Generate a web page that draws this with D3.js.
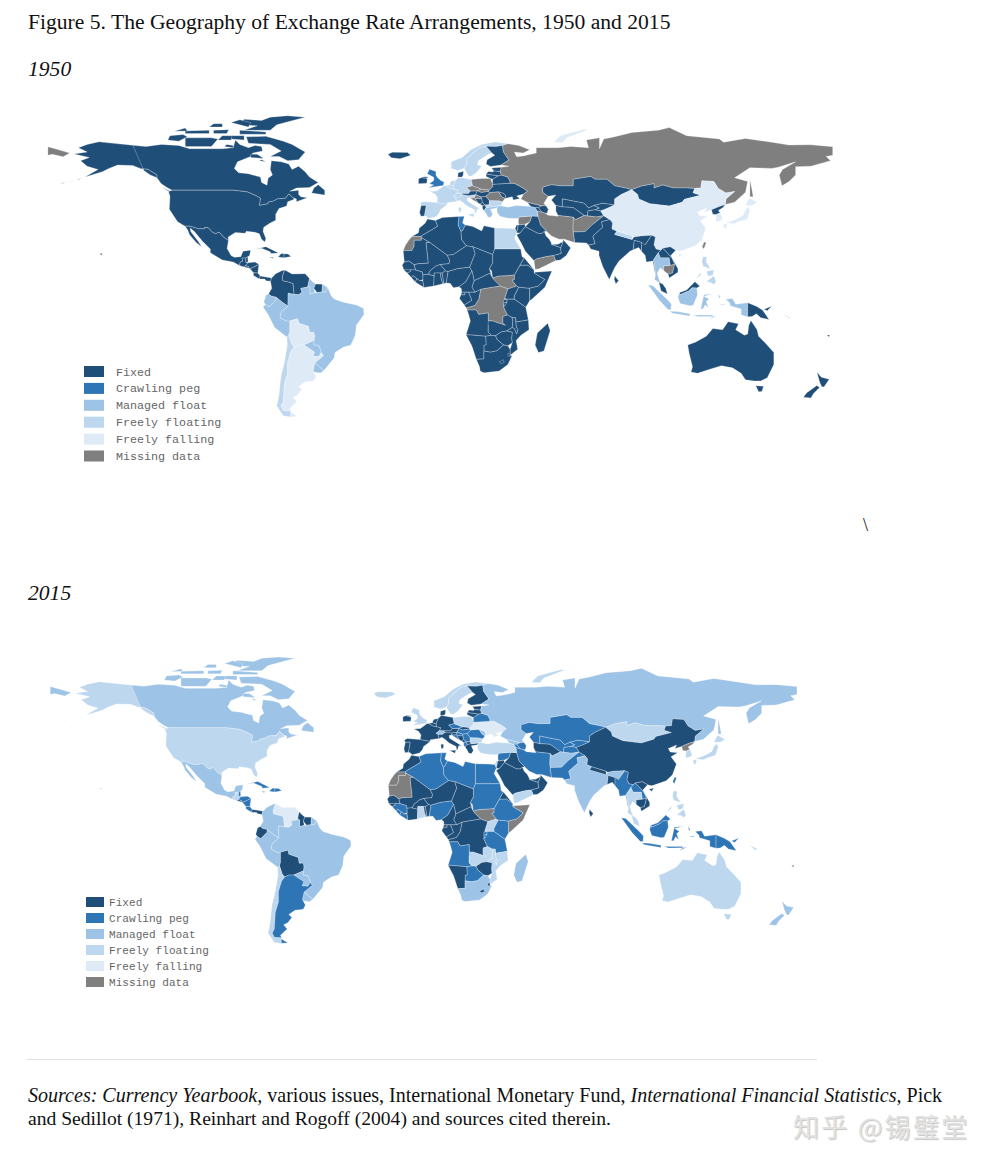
<!DOCTYPE html>
<html>
<head>
  <meta charset="utf-8">
  <style>
    html, body { margin: 0; padding: 0; background: #fff; }
    svg { display: block; }
    .page-text { font-family: "Liberation Serif", serif; fill: #111; }
    .legend-text { font-family: "Liberation Mono", monospace; fill: #666; }
    .land { stroke: #fff; stroke-opacity: 0.45; stroke-width: 0.6; stroke-linejoin: round; }
    .map { filter: blur(0.5px); }
  </style>
  <script src="https://d3js.org/d3.v7.min.js"></script>
</head>
<body>
  <div id="chartContainer"></div>

  <script>
    var regimeLabels = ["Fixed", "Crawling peg", "Managed float", "Freely floating", "Freely falling", "Missing data"];
    var regimeColors = ["#1f4e79", "#2e75b6", "#9dc3e6", "#bdd7ee", "#deebf7", "#7f7f7f"];

    // anything not listed below is "Fixed"
    var crawling1950 = ["United Kingdom", "Tunisia"];
    var managed1950 = ["Brazil", "Peru", "Ecuador", "Guyana", "French Guiana", "Paraguay", "Uruguay", "Turkey", "Greece", "Thailand", "Indonesia"];
    var floating1950 = ["Norway", "Sweden", "France", "Belgium", "Netherlands", "Germany", "Switzerland", "Spain", "Italy", "Slovenia", "Chile", "Egypt", "Nepal", "Philippines", "Bulgaria", "Macedonia"];
    var falling1950 = ["China", "Argentina", "Bolivia", "Japan", "South Korea", "Novaya Zemlya", "Solomon Islands"];
    var missing1950 = ["Russia", "Poland", "Czechia", "Slovakia", "Romania", "Croatia", "Syria", "Iran", "Afghanistan", "Yemen", "Cambodia", "Taiwan", "DR Congo", "South Sudan", "Western Sahara"];

    var crawling2015 = ["Czechia", "Hungary", "Romania", "Croatia", "Serbia", "Albania", "Belarus", "Kazakhstan", "Uzbekistan", "Kyrgyzstan", "Tajikistan", "Iran", "Pakistan", "Syria", "Armenia", "Azerbaijan", "Algeria", "Tunisia", "Libya", "Egypt", "Sudan", "Guinea", "Sierra Leone", "Liberia", "Nigeria", "Ethiopia", "Kenya", "Tanzania", "Rwanda", "Burundi", "Angola", "Botswana", "Myanmar", "Laos", "Sabah", "Indonesia", "Papua New Guinea", "Taiwan", "Argentina", "Honduras", "Nicaragua", "Costa Rica", "Haiti", "Dominican Republic", "Jamaica", "Belize", "Cuba"];
    var managed2015 = ["Russia", "Canada", "Mexico", "Peru", "Paraguay", "Uruguay", "Colombia", "Brazil", "French Guiana", "Switzerland", "Moldova", "Georgia", "Afghanistan", "India", "New Zealand", "Madagascar", "South Africa"];
    var floating2015 = ["United States", "Iceland", "United Kingdom", "Norway", "Sweden", "Poland", "Turkey", "Bulgaria", "Mongolia", "South Korea", "Japan", "Thailand", "Malaya", "Philippines", "Australia", "Chile", "Guatemala", "Yemen", "Israel", "Uganda", "Zambia", "Malawi", "Mozambique", "Ghana", "Novaya Zemlya", "Solomon Islands"];
    var falling2015 = ["Venezuela", "Ukraine"];
    var missing2015 = ["Western Sahara", "Mauritania", "South Sudan", "Somalia", "North Korea"];

    // country outlines as "lon lat lon lat ...", rough and read off the picture
    var outlines = [
      ["Canada", "-141 69.6 -135 69 -128 70 -120 69.5 -115 68 -108 68 -100 68 -95 68.5 -94 72 -92 70 -88 68.5 -85 69.5 -82 69 -81.5 67 -86 66 -87 64.5 -93 62 -94.5 59 -92.5 57 -88 56.5 -82.5 55 -82 52.5 -79.5 51.3 -79 54.5 -77 56 -78 58.5 -77.5 62.5 -73 62 -69.5 61 -68 58.5 -65 60 -62 57.5 -60 55 -56 52.5 -60 50.2 -66 50 -69 48.5 -65 49 -65 47 -64 46 -61 45.5 -66 43.7 -66 45 -67.5 45.5 -69.5 47.3 -71 45.3 -74.8 45 -76.5 44 -79 43.5 -79 42.8 -83 42 -82.5 45.3 -84.5 46.5 -88.5 48.2 -95 49 -123 49 -125 50 -128 52 -130 54.7 -130 56 -134 58.5 -137.5 59 -141 60.3"],
      ["Canada", "-80 73.7 -72 71.5 -68 70 -62 66.5 -65 63 -70 62.5 -74 64.5 -78 64.5 -73 67 -78 70 -88 70.5 -89 73.5"],
      ["Canada", "-117 69 -105 69 -102 72.5 -105 73 -117 73"],
      ["Canada", "-90 76.5 -78 76.5 -75 79 -62 82.5 -70 83.1 -78 82.5 -82 81 -90 81.5 -92 79 -84 78.5"],
      ["Canada", "-125 72 -120 71.5 -116 73.5 -118 74.5 -124 74"],
      ["Canada", "-92 74.7 -80 74.7 -80 75.7 -92 76.5"],
      ["Canada", "-117 75 -106 75 -106 76.5 -117 76.2"],
      ["Canada", "-96 80 -88 78 -87 80 -92 81.3"],
      ["Canada", "-102 72 -96 72 -95 74 -100 74"],
      ["Canada", "-96 72.5 -90 72 -90 74 -95.5 74"],
      ["Canada", "-104 75 -98 75 -97 76.7 -104 76.5"],
      ["Canada", "-122 76 -116 76.2 -117 77.5"],
      ["Canada", "-106 78 -100 78 -100 79.5 -104 79.5"],
      ["Canada", "-99 69 -95 68.5 -95 69.5 -98 70"],
      ["Canada", "-83 62.5 -80 62 -82 63"],
      ["Canada", "-87 64 -81 63.5 -84 65.5 -87 65.5"],
      ["Canada", "-59 47.7 -53 46.8 -53 49 -56 51.5 -58 50"],
      ["Canada", "-128 50.5 -123.5 48.4 -125 48.7"],
      ["United States", "-141 69.6 -150 70.5 -156.5 71.2 -162 70 -166 68.5 -162 66.5 -168 65.6 -161 64 -165 62.5 -162 60 -157 58.5 -163 55 -155 57.5 -152 59 -148 60.5 -141 60.3 -137.5 59 -134 58.5 -130 56 -130 54.7 -133 56 -136 58"],
      ["United States", "-164.5 54.5 -166.5 53.6 -166 54"],
      ["United States", "-168 53.3 -170 52.8 -169 53"],
      ["United States", "-172 52.4 -174.5 52 -173 52.4"],
      ["United States", "-123 49 -95 49 -88.5 48.2 -84.5 46.5 -82.5 45.3 -83 42 -79 42.8 -79 43.5 -76.5 44 -74.8 45 -71 45.3 -69.5 47.3 -67.5 45.5 -67 44.8 -70 43.7 -70.5 41.7 -74 40.6 -75.5 38 -75.5 35.2 -78 34 -81 32 -81.3 30 -80 26.8 -80.5 25.2 -82 26.5 -83 29 -85 29.7 -89 30.2 -89.5 29.2 -94 29.6 -97.3 27.5 -97.2 25.9 -99.5 27.5 -101.5 29.8 -103 29 -104.5 29.7 -106.5 31.8 -108.2 31.8 -108.2 31.3 -111 31.3 -114.8 32.5 -117.1 32.5 -120.5 34.5 -122.5 37.5 -124.3 40.3 -124 46.2 -124.7 48.4"],
      ["United States", "-156 20.2 -155 19.8 -155.6 19"],
      ["Mexico", "-117.1 32.5 -114.8 32.5 -111 31.3 -108.2 31.3 -108.2 31.8 -106.5 31.8 -104.5 29.7 -103 29 -101.5 29.8 -99.5 27.5 -97.2 25.9 -97.8 22.3 -96 19 -94.5 18.2 -91.5 18.5 -90.5 21 -87 21.5 -87.5 19 -88.3 18.5 -89.2 17.9 -91 17.9 -90.5 16.5 -91.7 16 -92.2 14.5 -95 16 -100 17 -105.5 20.3 -105.5 22 -109 25.5 -112.8 30 -114.7 31.6 -114.5 30 -111 25.5 -109.5 23 -112 25 -115 28.5 -116 31"],
      ["Guatemala", "-92.2 14.5 -91.7 16 -90.5 16.5 -91 17.9 -89.2 17.9 -89.2 15.9 -88.2 15.7 -89.3 14.4 -90 13.8"],
      ["Belize", "-89.2 17.9 -88.3 18.5 -88.2 16 -89.2 15.9"],
      ["El Salvador", "-90 13.8 -89.3 14.4 -87.8 13.9 -87.7 13.2"],
      ["Honduras", "-89.3 14.4 -88.2 15.7 -85 16 -83.2 15 -85 14 -87.3 13 -87.7 13.2 -87.8 13.9"],
      ["Nicaragua", "-87.3 13 -85 14 -83.2 15 -83.7 11 -85.7 11.1"],
      ["Costa Rica", "-85.7 11.1 -83.7 11 -82.6 9.6 -83 8.3 -85.7 9.9"],
      ["Panama", "-83 8.3 -82.6 9.6 -80 9.2 -77.4 8.7 -77.9 7.2 -80 7.5 -80.5 8.2"],
      ["Cuba", "-85 21.9 -80 23.1 -74.2 20.2 -77.7 19.9 -78 20.7 -82 22.4"],
      ["Haiti", "-74.4 18.4 -71.7 18 -71.7 19.8 -73 19.9"],
      ["Dominican Republic", "-71.7 18 -68.4 18.6 -69.9 19.7 -71.7 19.8"],
      ["Jamaica", "-78.3 18.4 -76.3 18.1 -77 17.8"],
      ["Colombia", "-77.4 8.7 -75.5 10.7 -72.8 12 -71.3 12.4 -71.9 11 -72.5 9 -72.3 7.5 -70 7 -67.5 6.2 -67.3 3.5 -67 1.2 -69.8 1.7 -69.9 -4.2 -70.5 -3.8 -72.5 -2.4 -75.3 -0.1 -77.5 0.4 -78.8 1.4 -77.3 4 -77.9 7.2"],
      ["Venezuela", "-71.3 12.4 -71.9 11 -72.5 9 -72.3 7.5 -70 7 -67.5 6.2 -67.3 3.5 -67 1.2 -65 1 -63.4 2.2 -64 4 -61 4.5 -60.7 5.2 -60 8.5 -62 10.7 -68 10.6"],
      ["Guyana", "-60 8.5 -60.7 5.2 -59.8 4.5 -59.8 1.3 -57.5 2 -58 4 -57.2 6 -58.5 6.9"],
      ["Suriname", "-57.2 6 -58 4 -56.5 2 -54.3 2.3 -54 5.9"],
      ["French Guiana", "-54 5.9 -54.3 2.3 -52.7 2.2 -51.6 4.2"],
      ["Ecuador", "-80.9 -2.2 -80 0.8 -78.8 1.4 -77.5 0.4 -75.3 -0.1 -75.5 -1.5 -78.5 -4.5 -80.3 -3.4"],
      ["Peru", "-81.3 -4.7 -80.3 -3.4 -78.5 -4.5 -75.5 -1.5 -75.3 -0.1 -72.5 -2.4 -70.5 -3.8 -69.9 -4.2 -73 -7 -73.5 -9.5 -70.6 -11 -69 -11 -69 -16 -69.5 -17.5 -70.4 -18.3 -76 -14 -79 -8"],
      ["Brazil", "-51.6 4.2 -52.7 2.2 -54.3 2.3 -56.5 2 -57.5 2 -59.8 1.3 -59.8 4.5 -60.7 5.2 -61 4.5 -64 4 -63.4 2.2 -65 1 -67 1.2 -69.8 1.7 -69.9 -4.2 -73 -7 -73.5 -9.5 -70.6 -11 -69 -11 -65.4 -10 -65 -12 -60.5 -13.5 -60 -16.3 -58 -16.3 -57.7 -18 -58 -20 -58 -22 -55.7 -22.3 -54.6 -25.5 -53.7 -27 -57.6 -30.2 -53.4 -33.7 -52 -32 -48.7 -28 -48.3 -25.5 -44.5 -23 -41 -22 -39 -17.5 -38.5 -13 -35 -8 -35.2 -5.2 -38.5 -3.7 -44 -2.5 -48.5 -1 -50 0.5"],
      ["Bolivia", "-69 -11 -65.4 -10 -65 -12 -60.5 -13.5 -60 -16.3 -58 -16.3 -57.7 -18 -58 -20 -62.6 -22 -65 -22 -67 -23 -68.2 -21.5 -69.5 -17.5 -69 -16"],
      ["Paraguay", "-58 -20 -58 -22 -55.7 -22.3 -54.6 -25.5 -55.8 -27.4 -58.6 -27.2 -57.7 -25.3 -62.6 -22"],
      ["Uruguay", "-58.4 -33.9 -57.6 -30.2 -53.4 -33.7 -55 -34.9 -57.8 -34.5"],
      ["Chile", "-70.4 -18.3 -69.5 -17.5 -68.2 -21.5 -67 -23 -68.5 -25 -70 -30 -70 -35 -71.5 -40 -72 -48 -73 -50 -72 -52 -68.5 -52.3 -68.6 -54.9 -67 -55.3 -72 -54.5 -75 -50 -74 -45 -73.5 -40 -73 -36 -71.5 -30 -70.2 -22"],
      ["Argentina", "-67 -23 -65 -22 -62.6 -22 -57.7 -25.3 -58.6 -27.2 -55.8 -27.4 -54.6 -25.5 -53.7 -27 -57.6 -30.2 -58.4 -33.9 -57 -36.5 -58 -38.5 -62 -39 -65 -41 -63.5 -42.5 -65.5 -45 -67.5 -46 -65.8 -48 -69 -51 -68.5 -52.3 -72 -52 -73 -50 -72 -48 -71.5 -40 -70 -35 -70 -30 -68.5 -25"],
      ["Argentina", "-68.6 -52.7 -68.6 -54.9 -65.5 -54.8"],

      ["Iceland", "-24 65.5 -22 66.4 -15 66.3 -13.6 65 -18.5 63.4 -22.5 63.9"],
      ["Ireland", "-10 52 -6.2 52.2 -6 54 -7.5 55.2 -10 54.3"],
      ["United Kingdom", "-8 54.5 -5.5 54.5 -6 55.2 -7.5 55.2"],
      ["United Kingdom", "-5.5 50.1 1.4 51.2 1.7 52.7 0 53.5 -1.5 55 -2 56 -2 57.6 -5 58.6 -6 56.5 -3 54.9 -3 53.4 -5 52 -3 51.4"],
      ["Norway", "5 59 5 62 10 64 14 67.5 19 70 25 71.1 31 70.3 28.5 69.5 25.5 69 21 69.2 18 68.5 15 66 12.2 63.5 12 60.5 11 59 8 58"],
      ["Sweden", "11 59 12 60.5 12.2 63.5 15 66 18 68.5 21 69.2 23.7 66 22 65.5 17.5 62.5 17 60.7 19 60 16.5 57 14.3 55.5 13 55.5 11.5 58"],
      ["Finland", "21 69.2 25.5 69 28.5 69.5 29 66.5 31.5 62.9 27.9 60.5 23 59.9 21 61 21.5 63 25 65 23.7 66"],
      ["Denmark", "8 55 8.2 57 10.6 57.7 10.5 56 10 55"],
      ["Germany", "7 53.5 8.5 54.9 10 54.7 14.2 53.9 14.8 51 12.1 50.3 13.8 48.6 13 47.5 7.6 47.6 8.2 49 6.2 49.5 6 51"],
      ["France", "-4.7 48.4 -1.5 48.7 1.5 50.9 2.5 51.1 4.2 50 6.2 49.5 8.2 49 7.6 47.6 6 46.3 7 45.9 7.5 43.8 3.2 43.2 3.2 42.4 -1.7 43.3 -1.2 45.5 -2.5 47.3"],
      ["Belgium", "2.5 51.1 4.2 51.4 6 51 6.2 49.5 4.2 50"],
      ["Netherlands", "4.2 51.4 4.8 53 7 53.5 6 51"],
      ["Spain", "-9.3 43 -8 43.8 -1.7 43.3 3.2 42.4 0 40 -0.5 38.5 -2 36.8 -5.5 36 -6.5 37 -7.4 37.2 -7 39 -6.5 42 -8.8 42"],
      ["Portugal", "-8.8 42 -6.5 42 -7 39 -7.4 37.2 -8.9 37 -9.5 38.8"],
      ["Italy", "7 45.9 9 45.9 10.4 46.9 12 47 13.7 46.5 13.6 45.5 12.3 45.3 12.5 44 16 41.8 18.5 40.2 17 40.5 16.5 38.9 16 38 15.7 40 12.3 41.7 10.3 43.5 8.8 44.4 7.5 43.8"],
      ["Italy", "12.5 38 15.6 38.2 15.1 36.7"],
      ["Italy", "8.3 41 9.7 41 9.5 39.1 8.5 39"],
      ["Switzerland", "6 46.3 7.6 47.6 9.6 47.5 10.4 46.9 9 45.9 7 45.9"],
      ["Austria", "9.6 47.5 13 47.5 13.8 48.6 17 48.7 16.2 46.9 13.7 46.5 10.4 46.9"],
      ["Czechia", "12.1 50.3 14.8 51 18.8 49.5 17 48.7 13.8 48.6"],
      ["Slovakia", "17 48.7 18.8 49.5 22.5 49.1 22 48.4 18.8 47.9"],
      ["Poland", "14.2 53.9 19 54.4 23 54.4 24 52 24 50.6 22.5 49.1 18.8 49.5 14.8 51"],
      ["Hungary", "16.2 46.9 17 48.7 18.8 47.9 22 48.4 22.9 48 21 46.2 18.8 45.9"],
      ["Slovenia", "13.7 46.5 16.2 46.9 15.6 45.5 13.6 45.5"],
      ["Croatia", "13.6 45.5 15.6 45.5 16.2 46.9 18.8 45.9 19 45 16 45.2 17.5 43 15 44.5"],
      ["Bosnia", "16 45.2 19 45 19.3 43.5 18.4 42.6 17.5 43"],
      ["Serbia", "18.8 45.9 21 46.2 22.5 44.3 22.5 42.3 20.5 42.2 19.3 43.5 19 45"],
      ["Montenegro", "18.4 42.6 19.3 43.5 20.5 42.2 19.3 41.9"],
      ["Macedonia", "20.5 42.2 22.5 42.3 23 41.3 21 40.9"],
      ["Albania", "19.3 41.9 20.5 42.2 21 40.9 20 39.7 19.4 40.5"],
      ["Greece", "20 39.7 21 40.9 23 41.3 26.3 41.7 26 40.8 23 40.3 24 38 23 36.5 21.7 36.8 21 38.3"],
      ["Bulgaria", "22.5 44.3 22.5 42.3 23 41.3 26.3 41.7 28 42 28.5 43.7 27 44.1"],
      ["Romania", "22.9 48 26.7 48.3 28.2 46 29.7 45.2 28.5 43.7 27 44.1 22.5 44.3 21 46.2"],
      ["Moldova", "26.7 48.3 29.2 47.5 30 46.4 29.7 45.2 28.2 46"],
      ["Ukraine", "24 50.6 22.5 49.1 22 48.4 22.9 48 26.7 48.3 29.2 47.5 30 46.4 29.7 45.2 33 46 33.5 44.5 36.5 45.2 35 46.3 38.2 47.2 40 48.5 38 50 34 52.2 32 52.2 24 51.7"],
      ["Belarus", "24 52 24 54 26.6 55.6 28 56 31 55 32 53 32 52.2 24 51.7"],
      ["Lithuania", "21 55.3 21 56.4 26.6 55.6 24 54 23 54.4"],
      ["Latvia", "21 56.4 22 57.6 24.3 57.3 24.3 57.9 27.5 57.6 28 56 26.6 55.6"],
      ["Estonia", "23.5 59.2 28 59.5 27.5 57.6 24.3 57.9 24.3 58.3"],

      ["Russia", "31 70.3 36 69.5 41 67.5 38 66 34 66.5 35 64.3 38 64.7 44 66 44 68.5 54 68.5 60 69 68 68.5 67 72 73 73 73 68 75 72.5 80 73.5 88 75.5 100 76.5 105 77.7 113 74 128 72.5 130 71 140 72.7 152 71 160 69.7 170 69.8 180 68.9 180 65 177 64.5 179 62.5 170 60 163 59.8 163 56 160 53 156.7 51 155.5 56 157 58.5 163 62 155 59.5 152 59 142 59.3 135 54.7 141 53 140 48 135 43.5 130.7 42.4 131 45 135 48.4 131 47.7 127.5 49.8 125.5 53 120 53.3 119.5 50 116.7 49.8 113 50 107 50 102 51.4 98 50 98 52 92 50.8 87.8 49.2 85 50 80 51 76.5 54 71 54 69 55.3 61 54 61 51 55 51 51 51.5 47 50.4 47 48 49.5 46.2 47.5 43 48.5 41.9 46.5 41.8 40 43.4 37 45 38.2 47.2 40 48.5 38 50 34 52.2 32 52.2 32 53 31 55 28 56 27.5 57.6 28 59.5 31.5 60 27.9 60.5 31.5 62.9 29 66.5 28.5 69.5"],
      ["Russia", "-180 68.9 -175 67.5 -170 66 -173 64.3 -178 65.5 -180 65"],
      ["Russia", "142 54 143 49 143.5 46 142 46 142 50"],
      ["Novaya Zemlya", "52 71 56 70.7 58 73 68 76.8 66 77 55 74"],
      ["Kazakhstan", "47 48 47 50.4 51 51.5 55 51 61 51 61 54 69 55.3 71 54 76.5 54 80 51 85 50 87.8 49.2 83 47 80 45 80 42.2 74.5 43 70.5 42 68 40.8 66 43 61 44 56 45 56 41.3 53 42 51 44.5 53 46.8 49.5 46.2"],
      ["Uzbekistan", "56 45 61 44 66 43 68 40.8 70.5 42 73 40.8 71 40 67.7 39.5 67.5 37.2 66 37.4 61 41 57 41.3 56 41.3"],
      ["Turkmenistan", "53 42 56 41.3 57 41.3 61 41 66 37.4 62 35.4 61 36.6 54 37.4 53 39.5"],
      ["Kyrgyzstan", "70.5 42 74.5 43 80 42.2 76 40.4 73.6 39.5 71 40 73 40.8"],
      ["Tajikistan", "67.7 39.5 71 40 73.6 39.5 75 37.3 71.5 36.7 67.5 37.2"],
      ["Afghanistan", "61 36.6 62 35.4 66 37.4 67.5 37.2 71.5 36.7 75 37.3 71 34.2 69.5 33 66.5 30 61 29.8 60.8 31.5"],
      ["Pakistan", "61 29.8 61.6 25 67 24.8 68 23.8 71 24.4 70 28 74.5 32 74 34.5 77.8 35.5 75 37.3 71 34.2 69.5 33 66.5 30"],
      ["Iran", "44.5 39.5 48 38.5 49.5 37.5 54 37 54 37.4 61 36.6 60.8 31.5 61 29.8 61.6 25 57 26.5 54.5 26.5 51 28 48.7 30.2 46 33 44.8 37"],
      ["Iraq", "42 37.2 44.8 37 46 33 48.7 30.2 47.7 30 46.5 29.1 44.7 29.2 39 32.2 41 34.4"],
      ["Syria", "36 36.7 42 37.2 41 34.4 38.8 33.4 36 33 35.8 35"],
      ["Israel", "34.3 31.3 35 29.5 35.5 31.5 35.7 33 35 33"],
      ["Jordan", "35 29.5 36.5 29.3 39 32.2 38.8 33.4 36 33 35.7 33 35.5 31.5"],
      ["Saudi Arabia", "35 28.5 36.5 29.3 39 32.2 44.7 29.2 46.5 29.1 47.7 30 48.5 28 50 26.5 51 24.6 51 24.1 55.2 22.7 55.5 20 52 19 49 18.6 44 17.4 43 16.6 39 21 37 25"],
      ["Yemen", "43 16.6 44 17.4 49 18.6 52 19 53 16.7 45 12.8 43.5 12.7"],
      ["Oman", "52 19 55.5 20 55.2 22.7 56 24.5 56.4 26.3 59.8 22.5 57.8 19 55 17 53 16.7"],
      ["UAE", "51 24.1 55.2 22.7 56 24.5 56.4 25.5 54 24.2"],
      ["Turkey", "26 40.2 26.3 41.7 28 41.8 31 41.2 35 42 41.5 41.5 43.5 41 44.5 39.5 44.8 37 42 37.2 36 36.7 36 36 32 36.1 30 36.3 27.3 37 26 39"],
      ["Georgia", "40 43.4 46.5 41.8 45 41 43.5 41 41.5 41.5"],
      ["Armenia", "43.5 41 45 41 46.5 39 44.5 39.5"],
      ["Azerbaijan", "46.5 41.8 48.5 41.9 49.5 40.3 49 38.4 48 38.5 46.5 39 45 41"],
      ["Mongolia", "87.8 49.2 92 50.8 98 52 98 50 102 51.4 107 50 113 50 116.7 49.8 116 47.8 119.5 46.7 112 44.8 111 43.5 105 41.7 96 42.8 91 45 90.5 47"],
      ["China", "73.6 39.5 76 40.4 80 42.2 80 45 83 47 87.8 49.2 90.5 47 91 45 96 42.8 105 41.7 111 43.5 112 44.8 119.5 46.7 116 47.8 116.7 49.8 119.5 50 120 53.3 125.5 53 127.5 49.8 131 47.7 135 48.4 131 45 130.7 42.4 128 41.5 124.4 40 121.2 39 122 40.7 118 39 118.9 37.3 122.5 37 119.3 35 121.9 31.5 120 26.3 117 23.5 113.5 22.2 110 21 108 21.5 105.5 23 102 22.4 101.2 21.5 99 22 98 24 98.7 27.5 97 28.3 92 28 88.8 27.5 88 28 81 30.2 78.7 31.2 79 34 77.8 35.5 75 37.3"],
      ["China", "108.7 19.3 110.9 20 110 18.3"],
      ["Taiwan", "121 25.2 122 25 120.9 22 120.1 23"],
      ["India", "74.5 32 70 28 71 24.4 68 23.8 69 22 72.8 21 72.8 19 74.5 14 77.5 8 80 13.5 82 16.5 87 21 88.5 21.7 89 26 92.3 25 91.8 23.5 94 24 97 28.3 92 28 88.8 27.5 88 26.4 80 28.7 81 30.2 78.7 31.2 79 34 77.8 35.5 74 34.5"],
      ["Nepal", "80 28.7 88 26.4 88 28 81 30.2"],
      ["Bangladesh", "88.5 21.7 89 26 92.3 25 92.3 21 91 22.7"],
      ["Myanmar", "92.3 21 92.3 25 94 24 97 28.3 98.7 27.5 98 24 99 22 101.2 21.5 100 20.3 97.8 17 98.6 12 98.7 10 97.5 16.5 94.5 16 94 19"],
      ["Thailand", "97.8 17 100 20.3 101 18 105 18 105.5 14.5 102.5 14.2 102.5 12 100.9 13.4 99.5 11 100 9 101 6.6 102 6 100.3 6.7 98.3 8 98.7 10 98.6 12"],
      ["Laos", "100 20.3 101.2 21.5 102 22.4 104 20.5 106.5 17.5 107.5 15 105.5 14.5 105 18 101 18"],
      ["Cambodia", "102.5 14.2 105.5 14.5 107.5 15 106.5 11 104.5 10.5 102.5 12"],
      ["Vietnam", "102 22.4 105.5 23 108 21.5 105.7 19 109 13 109 11.3 105 8.7 104.5 10.5 106.5 11 107.5 15 106.5 17.5 104 20.5"],
      ["Malaya", "100.3 6.7 102 6 103.4 4 104.2 1.4 101.3 2.8"],
      ["Sabah", "109.6 2 113 3.2 116.8 7 119 5 117.7 4.1 115.5 4.2 114 2.8 110 1"],
      ["Indonesia", "95.3 5.6 97.5 5.2 104 -1 106 -3.2 105.8 -5.8 104.5 -5.8 100.5 -1.5"],
      ["Indonesia", "105.2 -6.5 108.5 -6.7 114.5 -7.7 114.4 -8.7 106.5 -7.4"],
      ["Indonesia", "109.6 2 110 1 114 2.8 115.5 4.2 117.7 4.1 118 1 116 -3.8 114.5 -4 110 -3 109 0"],
      ["Indonesia", "119.5 -5.5 120.9 1 125 1.5 121 0.4 123.3 -1 122 -2 123 -5 121.5 -3.5 120.5 -5.5"],
      ["Indonesia", "131 -1 134 -0.7 135.5 -3.3 141 -2.6 141 -9.1 138 -8.3 138 -5.5 133 -4 132.8 -2.8"],
      ["Indonesia", "116 -8.3 119 -8.3 125 -8.3 125 -8.9 118 -9"],
      ["Indonesia", "123.5 -10.3 127 -8.4 125 -9"],
      ["Indonesia", "127.5 1.5 128.5 0 128 -0.8"],
      ["Indonesia", "127.8 -3.2 130.8 -3.2 130 -3.5"],
      ["Papua New Guinea", "141 -2.6 145 -4.3 147.8 -6 150.8 -10.3 147 -9.5 145 -7.7 143 -9 141 -9.1"],
      ["Papua New Guinea", "148.5 -5.6 152 -4.2 150 -6.3"],
      ["Solomon Islands", "157 -7.5 161 -9.5 160 -10"],
      ["Philippines", "120.5 18.5 122.2 18.4 122 16 124 13 120.7 14 120 16"],
      ["Philippines", "122 7 125.5 9.7 126.5 7 125.5 5.7 124 6.7"],
      ["Philippines", "122 11.7 125.5 12.5 125 10 123 9.5"],
      ["Philippines", "117.2 8.4 119.5 11.3 119.4 10"],
      ["Japan", "130.9 34 135.5 35.6 139 37.6 140 40 141.5 41.4 142 39.5 140.8 35.7 137 34.6 135 33.6 132 34"],
      ["Japan", "130 33.5 131.7 33.6 131 31.2 130 32"],
      ["Japan", "140 42 141.7 45.4 145.3 43.5 143 42"],
      ["North Korea", "124.4 40 128 41.5 130.7 42.4 129.7 41 127.5 39.7 128.4 38.6 126.7 37.8 125 38"],
      ["South Korea", "126.7 37.8 128.4 38.6 129.4 36 129 35.1 126.4 34.4 126.5 37"],
      ["Sri Lanka", "80 9.7 81.8 7.5 80.5 6 79.8 8"],
      ["Australia", "113.5 -22 114.2 -26 115.7 -32 115 -34.4 118 -35 124 -33 129 -31.5 134 -32.5 138 -35 140 -38 144 -38.5 147 -38.5 150 -37 153 -31 153 -25.5 149 -21 146 -18 145.3 -15 142.5 -10.8 141.5 -13 141 -17 139.5 -17.5 135.5 -15 136.8 -12.3 132 -11.3 129.5 -15 125 -14.5 122 -18 117 -20.7"],
      ["Australia", "144.7 -40.7 148.3 -40.9 147.5 -43.3 146 -43.5"],
      ["New Zealand", "172.8 -34.5 174.8 -36.8 178.4 -37.7 176 -41.3 175 -41.2 174 -39"],
      ["New Zealand", "172.7 -40.6 174 -41.5 171.2 -44.3 170 -46.3 166.6 -46 168 -44"],
      ["Fiji", "177.4 -17.4 178.6 -17.4 178.3 -18.3"],
      ["Madagascar", "49.3 -12 50.4 -15.5 47.5 -24.8 45 -25.5 43.5 -22 44.5 -16.5"],

      ["Morocco", "-5.9 35.8 -2.2 35.1 -1.2 32.5 -3.6 31 -8.7 28 -8.7 27.7 -13 27.7 -10 29.5 -9.7 31.5 -7 33.8"],
      ["Western Sahara", "-13 27.7 -8.7 27.7 -8.7 26 -12 26 -12 23.4 -13 21.3 -17 21.3 -16 23.7 -14.5 26"],
      ["Algeria", "-2.2 35.1 1 36.5 8.6 36.9 8.2 33 9.5 30 9.8 26.3 12 23.5 6 19.5 3.2 19.1 -4.8 25 -8.7 27.2 -8.7 28 -3.6 31 -1.2 32.5"],
      ["Tunisia", "8.6 36.9 11 37 10.2 34 11.5 33 10.3 30.5 9.5 30 8.2 33"],
      ["Libya", "11.5 33 15 32.3 19 30.3 20 32.7 25 31.6 25 22 24 19.5 15 23 12 23.5 9.8 26.3 9.5 30 10.3 30.5"],
      ["Egypt", "25 31.6 31 31.5 34.3 31.3 35 29.5 34 27 36.9 22 25 22"],
      ["Sudan", "25 22 36.9 22 37.5 18.5 38.5 18 36.5 14.5 34 10 33 10 31 9.7 27 9.6 24 8.7 23.5 12 22.5 13 24 15.7 24 19.5"],
      ["South Sudan", "24 8.7 27 9.6 31 9.7 33 10 34 10 34 8 33 7.7 35 5 31 3.7 27.5 5 24.5 8"],
      ["Mauritania", "-17 21.3 -13 21.3 -12 23.4 -12 26 -8.7 26 -8.7 27.2 -4.8 25 -6.5 25 -5.5 15.5 -10 15.3 -12 14.8 -14.5 16.5 -16.5 16"],
      ["Mali", "-12 14.8 -10 15.3 -5.5 15.5 -6.5 25 -4.8 25 3.2 19.1 4.3 16.9 4 15.3 0 14.9 -2 14.2 -4.7 12 -5.5 10.4 -8 10.2 -8.3 11.5 -11.4 12.4"],
      ["Senegal", "-16.5 16 -14.5 16.5 -12 14.8 -11.4 12.4 -16.7 12.4 -17.5 14.7"],
      ["Guinea-Bissau", "-16.7 12.4 -13.7 12.6 -13.7 11.7 -15.2 11"],
      ["Guinea", "-13.7 12.6 -11.4 12.4 -8.3 11.5 -8 10.2 -7.9 8 -9.4 7.4 -10.7 8.4 -12.5 9.8 -13.3 9 -15.2 11 -13.7 11.7"],
      ["Sierra Leone", "-13.3 9 -12.5 9.8 -10.7 8.4 -11.5 6.9"],
      ["Liberia", "-11.5 6.9 -10.7 8.4 -9.4 7.4 -8 7.5 -7.5 4.4"],
      ["Cote d'Ivoire", "-7.9 8 -8 10.2 -5.5 10.4 -2.8 9.7 -3 5 -7.5 4.4 -8 7.5"],
      ["Burkina Faso", "-5.5 10.4 -4.7 12 -2 14.2 0 14.9 2.4 12 0.9 11 0 11 -2.8 11 -2.8 9.7"],
      ["Ghana", "-2.8 11 0 11 0.5 8 1.2 6.1 -3 5 -2.8 9.7"],
      ["Togo", "0 11 0.9 11 1.6 6.2 1.2 6.1 0.5 8"],
      ["Benin", "0.9 11 2.4 12 3.6 11.7 2.7 6.4 1.6 6.2"],
      ["Niger", "0 14.9 4 15.3 4.3 16.9 3.2 19.1 6 19.5 12 23.5 15 23 16 20 13.5 13.7 8 13 3.6 11.7 2.4 12"],
      ["Nigeria", "2.7 6.4 3.6 11.7 8 13 13.5 13.7 14.5 12 11.7 7 8.6 4.7 6 4.3 4.5 6.3"],
      ["Chad", "13.5 13.7 16 20 15 23 24 19.5 24 15.7 22.5 13 23.5 10 22.8 10.9 18 8.6 15.5 7.5 15 10 14.5 12"],
      ["Central African Republic", "15.5 7.5 18 8.6 22.8 10.9 24 8.7 24.5 8 27.5 5 22.5 4.2 18.6 3.5 16 2.2 14.5 4.5"],
      ["Cameroon", "8.6 4.7 11.7 7 14.5 12 15 10 15.5 7.5 14.5 4.5 16 2.2 13 2.2 9.8 2.2 9.7 3.8"],
      ["Equatorial Guinea", "9.8 2.2 11.3 2.2 11.3 1 9.5 1"],
      ["Gabon", "9.5 1 11.3 1 11.3 2.2 13 2.2 14.5 -1.5 11 -3.7 8.8 -0.7"],
      ["Congo", "13 2.2 16 2.2 18.6 3.5 17.7 -1 15.9 -3.9 12 -5 11 -3.7 14.5 -1.5"],
      ["DR Congo", "18.6 3.5 22.5 4.2 27.5 5 31 3.7 29.6 -0.6 29 -4.5 30.8 -8.3 28.7 -9 28.7 -12 30 -13 27 -12 24 -11 22 -11 22 -7.3 17.6 -8 16.5 -6 12.3 -6 12 -5 15.9 -3.9 17.7 -1"],
      ["Uganda", "31 3.7 35 5 36 4.5 34 0.5 33.9 -1 30.5 -1 29.6 -0.6"],
      ["Kenya", "36 4.5 41 4 41 -1.7 39.2 -4.7 33.9 -1 34 0.5"],
      ["Eritrea", "38.5 18 43 12.5 40 14.6 36.5 14.5"],
      ["Ethiopia", "36.5 14.5 40 14.6 43 12.5 43 11 48 8 45 5 41 4 36 4.5 35 5 33 7.7 34 8 34 10"],
      ["Somalia", "43 11 43.5 11.4 51.2 11.9 48 4.5 42 -1 41 -1.7 41 4 45 5 48 8"],
      ["Tanzania", "33.9 -1 39.2 -4.7 40.4 -10.5 34.8 -11.5 34.5 -9.5 32.9 -9.4 30.8 -8.3 29 -4.5 30.5 -2.5 30.5 -1"],
      ["Rwanda", "29 -1.3 30.5 -1 30.5 -2.5 29 -2.8"],
      ["Burundi", "29 -2.8 30.5 -2.5 29.5 -4.4"],
      ["Angola", "12.3 -6 16.5 -6 17.6 -8 22 -7.3 22 -11 24 -11 22 -13 22 -16.2 23.4 -17.6 20.8 -18 14 -17.4 11.8 -17.3 13.8 -11 13 -8"],
      ["Zambia", "22 -11 24 -11 27 -12 30 -13 28.7 -12 28.7 -9 30.8 -8.3 32.9 -9.4 33.3 -11 33 -14 30.4 -15.6 28 -16 25.3 -17.8 23.4 -17.6 22 -16.2 22 -13"],
      ["Malawi", "32.9 -9.4 34.5 -9.5 34.7 -12 35 -14 35.7 -15 35 -17 34 -14.5 33 -14 33.3 -11"],
      ["Mozambique", "34.8 -11.5 40.4 -10.5 40.7 -15 37 -17.5 34.8 -20 35.5 -24 32.9 -26 32 -26.8 32 -24 33 -21 32.7 -19 33 -16.2 30.4 -15.6 33 -14 34 -14.5 35 -17 35.7 -15 35 -14 34.7 -12"],
      ["Zimbabwe", "25.3 -17.8 28 -16 30.4 -15.6 33 -16.2 32.7 -19 33 -21 31 -22.4 29 -22 26 -19.5"],
      ["Botswana", "20.8 -18 23.4 -17.6 25.3 -17.8 26 -19.5 29 -22 26 -24.7 23 -25.3 20 -24.8 20 -22 21 -22"],
      ["Namibia", "11.8 -17.3 14 -17.4 20.8 -18 21 -22 20 -22 20 -28.4 16.5 -28.6 14.5 -22.5"],
      ["South Africa", "16.5 -28.6 20 -28.4 20 -24.8 23 -25.3 26 -24.7 29 -22 31 -22.4 32 -24 32 -26.8 32.9 -26.9 31 -31 27 -34 20 -34.8 18.3 -34 18 -32"],
      ["Lesotho", "27 -29.8 29 -28.8 29.3 -30 28 -30.6"],
      ["Swaziland", "31 -25.8 32 -26 32 -27.2 31 -27.2"]
    ];

    var lists1950 = [crawling1950, managed1950, floating1950, falling1950, missing1950];
    var lists2015 = [crawling2015, managed2015, floating2015, falling2015, missing2015];

    var svg = d3.select("#chartContainer")
      .append("svg")
      .attr("width", 1006)
      .attr("height", 1164);

    var color = d3.scaleOrdinal().domain(regimeLabels).range(regimeColors);

    function regimeOf(name, lists) {
      for (var i = 0; i < lists.length; i++) {
        if (lists[i].indexOf(name) >= 0) return regimeLabels[i + 1];
      }
      return regimeLabels[0];
    }

    function toRing(text) {
      var nums = text.trim().split(/\s+/).map(Number);
      var ring = [];
      for (var i = 0; i < nums.length; i += 2) ring.push([nums[i], nums[i + 1]]);
      ring.push(ring[0]);
      return ring;
    }

    var features = outlines.map(function (d) {
      return {
        type: "Feature",
        properties: { name: d[0] },
        geometry: { type: "Polygon", coordinates: [toRing(d[1])] }
      };
    });

    // the map is plain lon/lat, so a flat scale is enough and winding does not matter
    function drawMap(lists, pxPerDeg, originX, originY) {
      var projection = d3.geoIdentity().reflectY(true).scale(pxPerDeg).translate([originX, originY]);
      var path = d3.geoPath(projection);
      svg.append("g")
        .attr("class", "map")
        .selectAll("path")
        .data(features)
        .enter()
        .append("path")
        .attr("class", "land")
        .attr("d", path)
        .attr("fill", function (d) { return color(regimeOf(d.properties.name, lists)); });
    }

    function drawLegend(boxX, boxW, boxH, textX, top, bottom, fontSize) {
      var y = d3.scalePoint().domain(regimeLabels).range([top, bottom]);
      var g = svg.append("g");
      g.selectAll("rect")
        .data(regimeLabels)
        .enter()
        .append("rect")
        .attr("x", boxX)
        .attr("y", function (d) { return y(d) - boxH / 2; })
        .attr("width", boxW)
        .attr("height", boxH)
        .attr("fill", function (d) { return color(d); });
      g.selectAll("text")
        .data(regimeLabels)
        .enter()
        .append("text")
        .attr("class", "legend-text")
        .attr("x", textX)
        .attr("y", function (d) { return y(d) + 4; })
        .style("font-size", fontSize + "px")
        .text(function (d) { return d; });
    }

    drawMap(lists1950, 2.18, 440.3, 297);
    drawMap(lists2015, 2.074, 423.6, 829.4);
    drawLegend(84, 20, 11, 116, 371.5, 456, 11.7);
    drawLegend(86, 18, 10, 109, 902, 982, 11.1);

    function addText(x, y, size, parts) {
      var t = svg.append("text").attr("class", "page-text").attr("x", x).attr("y", y).style("font-size", size + "px");
      parts.forEach(function (p) {
        t.append("tspan").style("font-style", p[1] ? "italic" : "normal").text(p[0]);
      });
      return t;
    }

    addText(28, 29, 21.6, [["Figure 5. The Geography of Exchange Rate Arrangements, 1950 and 2015", false]]);
    addText(28, 76, 21.6, [["1950", true]]);
    addText(28, 600, 21.6, [["2015", true]]);
    addText(863, 531, 18, [["\\", false]]);

    svg.append("line")
      .attr("x1", 27).attr("x2", 817)
      .attr("y1", 1059.5).attr("y2", 1059.5)
      .attr("stroke", "#e0e0e0");

    addText(28, 1102, 20.05, [
      ["Sources: Currency Yearbook,", true],
      [" various issues, International Monetary Fund, ", false],
      ["International Financial Statistics,", true],
      [" Pick", false]
    ]);
    addText(28, 1125, 19.6, [["and Sedillot (1971), Reinhart and Rogoff (2004) and sources cited therein.", false]]);

    svg.append("text")
      .attr("x", 793)
      .attr("y", 1137)
      .style("font-family", '"Noto Sans CJK SC", sans-serif')
      .style("font-size", "26px")
      .style("letter-spacing", "2.3px")
      .style("text-shadow", "1px 1px 1px #c4c4c4")
      .attr("fill", "#e2e2e2")
      .text("知乎 @锡璧堂");
  </script>
</body>
</html>
